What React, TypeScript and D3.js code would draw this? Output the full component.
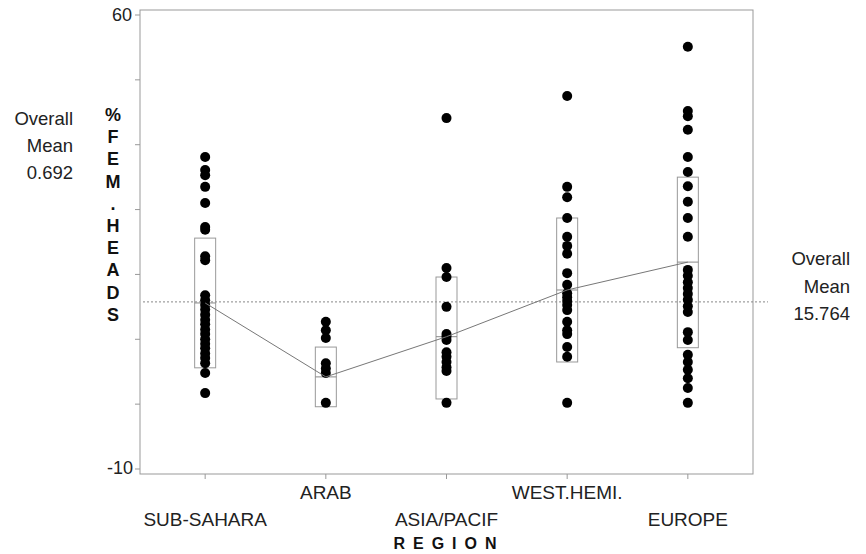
import React from 'react';
import * as d3 from 'd3';

// regions on the x axis (labels alternate between two rows)
const regions = ['SUB-SAHARA', 'ARAB', 'ASIA/PACIF', 'WEST.HEMI.', 'EUROPE'];

// % female-headed households, one list per region
const subSahara = [38.1, 36.1, 35.3, 33.5, 31.0, 27.3, 26.9, 22.8, 22.2, 16.8, 16.0, 15.3, 14.6, 13.8, 13.0, 12.3, 11.5, 10.8, 10.0, 9.3, 8.6, 7.8, 7.1, 6.3, 4.8, 1.7];
const arab = [12.7, 11.4, 10.2, 6.3, 5.5, 4.8, 0.2];
const asiaPacif = [44.1, 21.0, 19.6, 15.0, 10.8, 10.4, 9.9, 8.0, 7.3, 6.5, 5.7, 5.1, 0.2];
const westHemi = [47.5, 33.5, 31.9, 28.7, 25.8, 24.4, 23.2, 20.2, 18.4, 17.1, 16.5, 15.9, 15.3, 14.5, 12.7, 11.4, 10.8, 8.8, 7.3, 0.2];
const europe = [55.1, 45.2, 44.4, 42.3, 38.1, 35.8, 33.6, 31.2, 28.7, 25.8, 20.7, 19.8, 18.8, 17.9, 17.0, 16.1, 15.1, 14.2, 11.1, 9.9, 7.6, 6.5, 5.3, 4.0, 2.5, 0.2];
const series = [subSahara, arab, asiaPacif, westHemi, europe];

// group mean and box (mean +/- 1 sd) per region
const groupMeans = [15.6, 4.2, 10.4, 17.6, 21.9];
const boxLow = [5.6, -0.4, 0.8, 6.5, 8.7];
const boxHigh = [25.6, 8.8, 19.6, 28.7, 35.0];

const overallMean = 15.764;
const yTicks = [60, 50, 40, 30, 20, 10, 0, -10];
const yTitle = ['%', 'F', 'E', 'M', '.', 'H', 'E', 'A', 'D', 'S'];

const W = 866;
const H = 554;
const frame = { left: 140, right: 753, top: 10, bottom: 474 };
const font = '"Liberation Sans", Arial, sans-serif';

export default function App() {
  const x = d3.scalePoint<string>()
    .domain(regions)
    .range([frame.left, frame.right])
    .padding(0.54);

  const y = d3.scaleLinear().domain([-10, 60]).range([469, 15]);

  const meanLine = d3.line<number>()
    .x((_, i) => x(regions[i])!)
    .y(d => y(d));

  return (
    <svg width={W} height={H} style={{ position: 'absolute', left: 0, top: 0, background: '#fff' }} fontFamily={font}>
      {/* frame */}
      <rect x={frame.left} y={frame.top} width={frame.right - frame.left} height={frame.bottom - frame.top}
        fill="none" stroke="#999" strokeWidth={1} />

      {/* y ticks */}
      {yTicks.map(t => (
        <line key={t} x1={frame.left - 5} x2={frame.left} y1={y(t)} y2={y(t)} stroke="#999" />
      ))}
      <text x={132} y={y(60) + 6} textAnchor="end" fontSize={18} fill="#222">60</text>
      <text x={133} y={y(-10) + 5} textAnchor="end" fontSize={18} fill="#222">-10</text>

      {/* x ticks and labels */}
      {regions.map((r, i) => (
        <g key={r}>
          <line x1={x(r)} x2={x(r)} y1={frame.bottom} y2={frame.bottom + 5} stroke="#999" />
          <text x={x(r)} y={i % 2 === 0 ? 526 : 499} textAnchor="middle" fontSize={19} fill="#222">{r}</text>
        </g>
      ))}
      <text x={449} y={549} textAnchor="middle" fontSize={16} fontWeight="bold" letterSpacing={8} fill="#111">REGION</text>

      {/* y title, stacked */}
      {yTitle.map((c, i) => (
        <text key={i} x={113} y={121 + i * 22.2} textAnchor="middle" fontSize={18} fontWeight="bold" fill="#111">{c}</text>
      ))}

      {/* overall mean reference */}
      <line x1={143} x2={768} y1={y(overallMean)} y2={y(overallMean)} stroke="#888" strokeDasharray="2,2" />
      {['Overall', 'Mean', '0.692'].map((t, i) => (
        <text key={'l' + i} x={73} y={125 + i * 27} textAnchor="end" fontSize={18.5} fill="#222">{t}</text>
      ))}
      {['Overall', 'Mean', overallMean.toFixed(3)].map((t, i) => (
        <text key={'r' + i} x={850} y={265 + i * 27.5} textAnchor="end" fontSize={18.5} fill="#222">{t}</text>
      ))}

      {/* boxes */}
      {regions.map((r, i) => (
        <g key={'b' + r}>
          <rect x={x(r)! - 10.5} y={y(boxHigh[i])} width={21} height={y(boxLow[i]) - y(boxHigh[i])}
            fill="none" stroke="#999" />
          <line x1={x(r)! - 10.5} x2={x(r)! + 10.5} y1={y(groupMeans[i])} y2={y(groupMeans[i])} stroke="#888" />
        </g>
      ))}

      {/* points */}
      {series.map((vals, i) => (
        <g key={'p' + i}>
          {vals.map((v, j) => (
            <circle key={j} cx={x(regions[i])} cy={y(v)} r={5} fill="#000" />
          ))}
        </g>
      ))}

      {/* line of means */}
      <path d={meanLine(groupMeans)!} fill="none" stroke="#777" strokeWidth={1} />
    </svg>
  );
}
